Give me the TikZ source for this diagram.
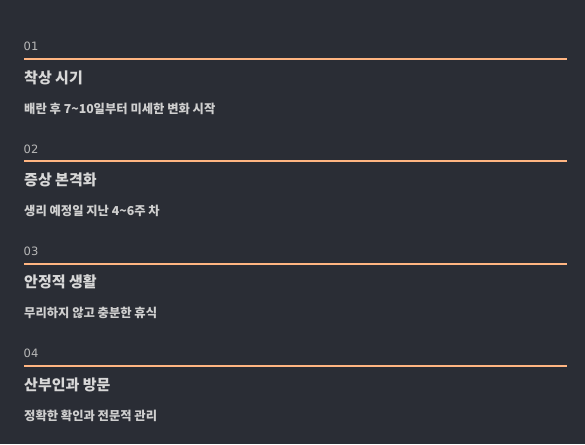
\documentclass[tikz,border=0pt]{standalone}
\usepackage{fontspec}
\newfontfamily\kr{Noto Sans CJK KR}
\newfontfamily\numfont{DejaVu Sans}
\usetikzlibrary{positioning}
\definecolor{bgc}{HTML}{2A2D35}
\definecolor{rulec}{HTML}{FFB582}
\definecolor{txtc}{HTML}{D8D8D8}
\definecolor{subc}{HTML}{CFCFCF}
\definecolor{numc}{HTML}{B8B8B8}

\begin{document}
\begin{tikzpicture}[
x = 1pt, y = -1pt,
   num/.style = {anchor=base west, inner sep=0pt, text=numc, font=\numfont\fontsize{11.5}{13}\selectfont},
   ttl/.style = {anchor=base west, inner sep=0pt, text=txtc, font=\kr\bfseries\fontsize{15}{18}\selectfont},
   sub/.style = {anchor=base west, inner sep=0pt, text=subc, font=\kr\bfseries\fontsize{12.3}{14}\selectfont},
  rule/.style = {draw=rulec, line width=2pt}
                    ]
\fill[bgc] (0,0) rectangle (585,444);
\foreach \i/\t/\s in {1/착상 시기/배란 후 7\textasciitilde10일부터 미세한 변화 시작,
                      2/증상 본격화/생리 예정일 지난 4\textasciitilde6주 차,
                      3/안정적 생활/무리하지 않고 충분한 휴식,
                      4/산부인과 방문/정확한 확인과 전문적 관리}
{
  \pgfmathsetmacro\y{59+(\i-1)*102.35}
  \node (n\i) [num] at (23.5,\y-8.3) {0\i};
  \coordinate (a\i) at (24,\y);
  \coordinate (b\i) at (567,\y);
  \draw[rule] (a\i) -- (b\i);
  \node (t\i) [ttl] at (24,\y+24) {\t};
  \node (s\i) [sub] at (24,\y+54) {\s};
}
\end{tikzpicture}
\end{document}
